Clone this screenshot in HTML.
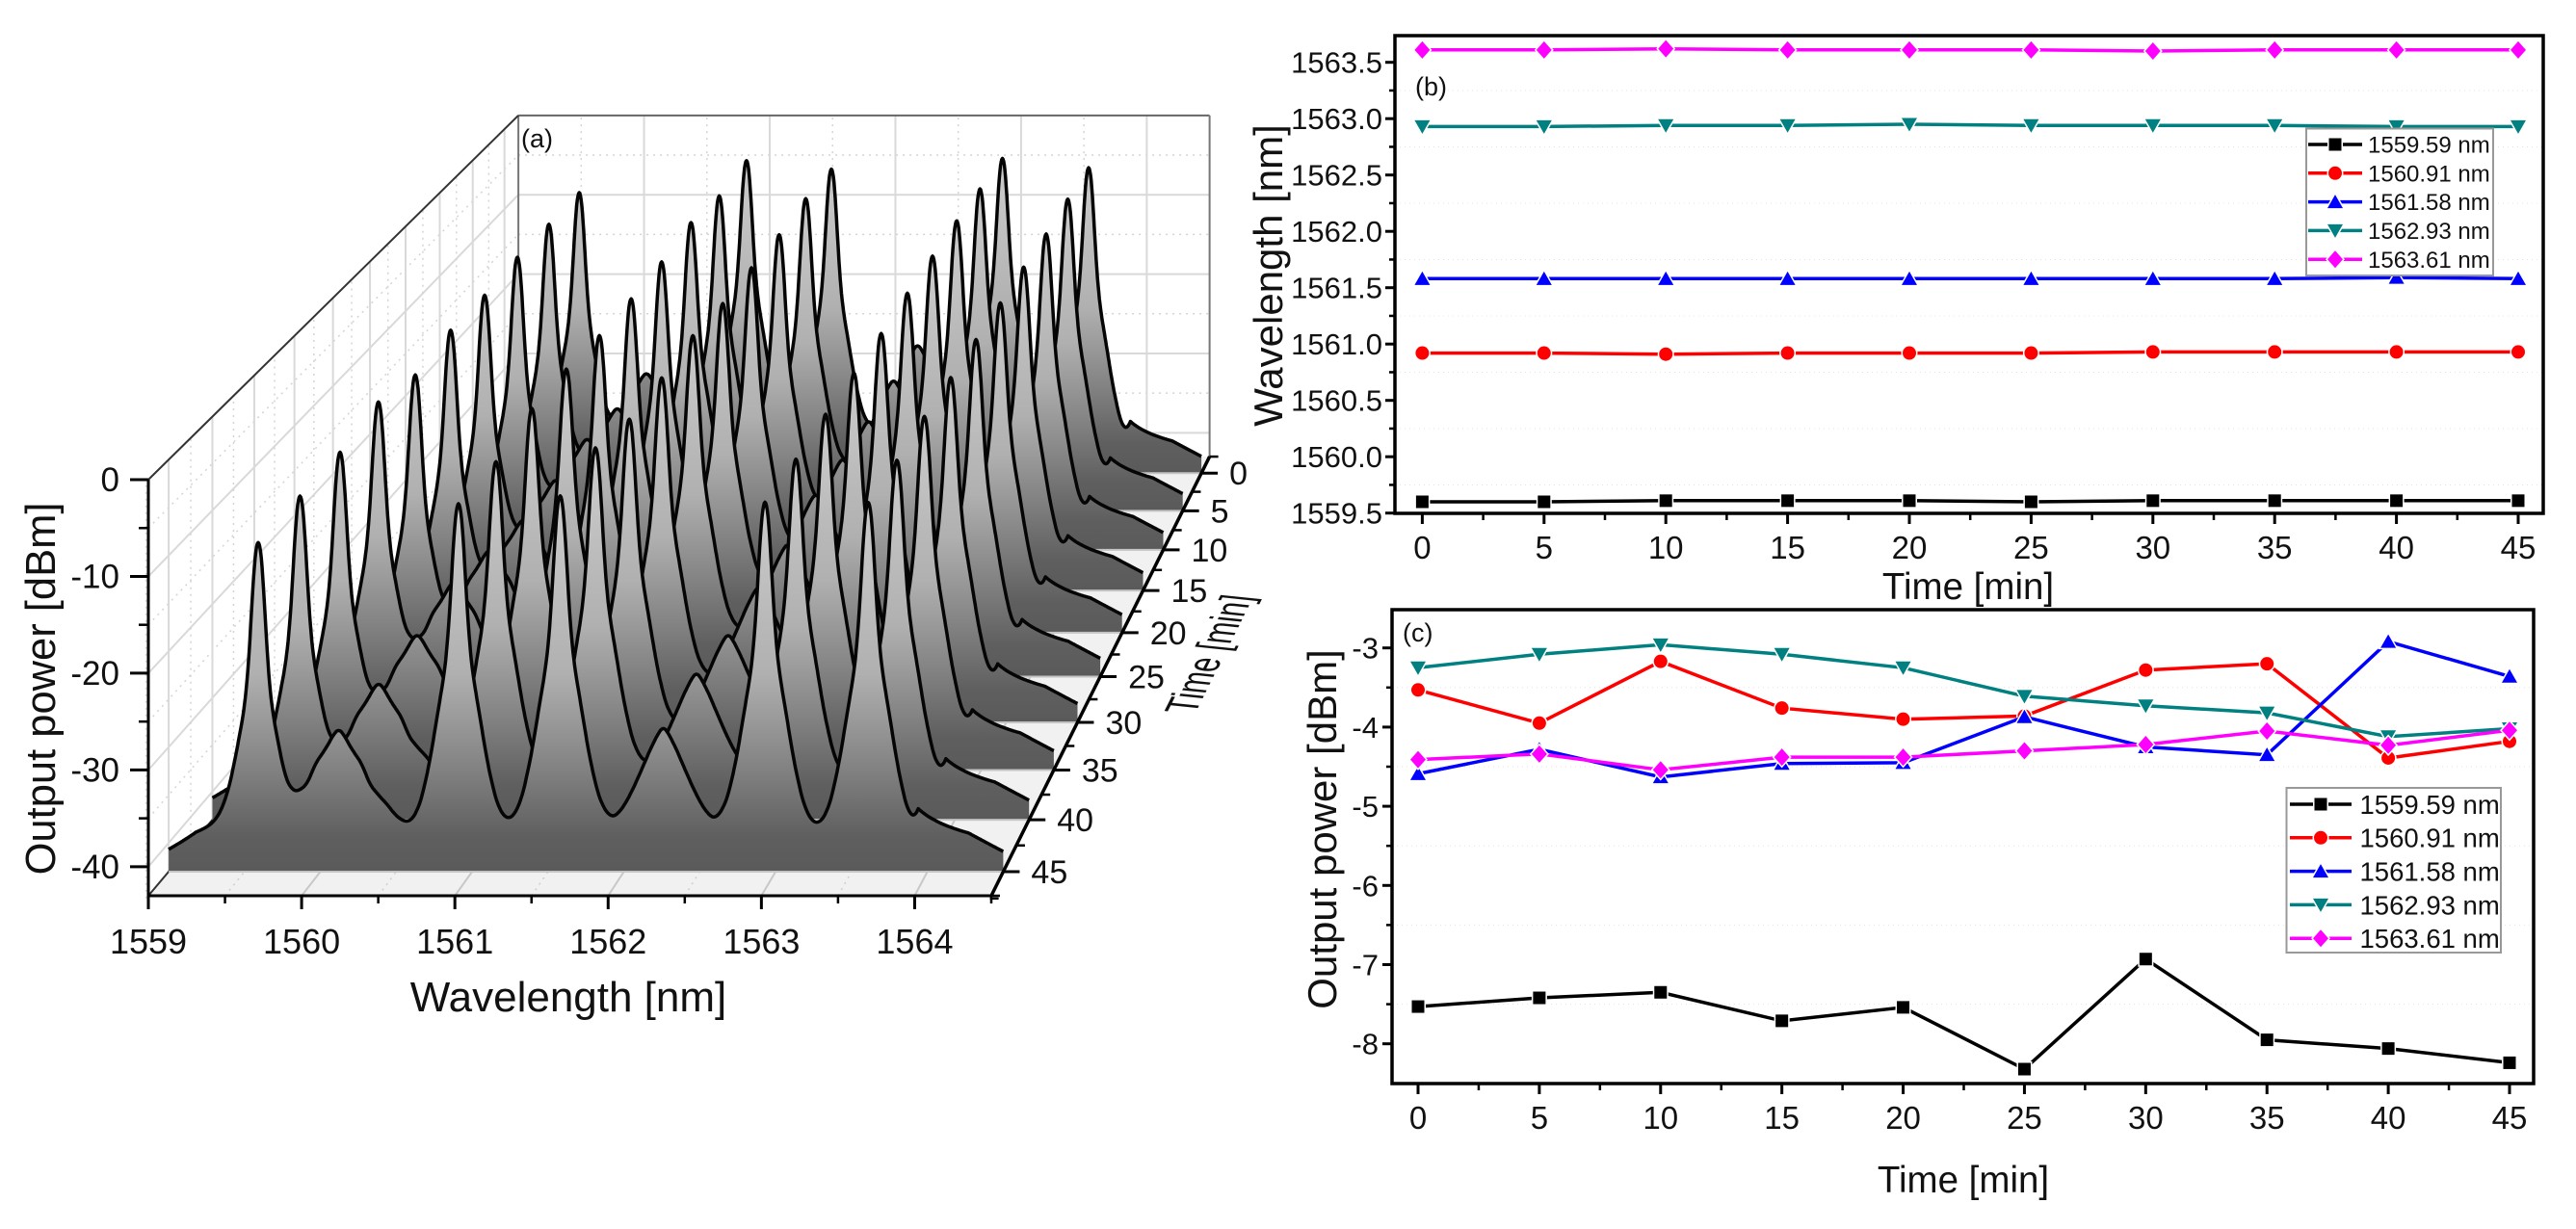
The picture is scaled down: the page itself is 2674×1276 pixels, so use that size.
<!DOCTYPE html>
<html lang="en">
<head>
<meta charset="utf-8">
<title>Laser spectra stability chart</title>
<style>
html,body{margin:0;padding:0;background:#fff;}
svg{display:block;font-family:"Liberation Sans",Arial,sans-serif;}
</style>
</head>
<body>
<svg id="figure" xmlns="http://www.w3.org/2000/svg" width="2674" height="1276" viewBox="0 0 2674 1276">
  <rect x="0" y="0" width="2674" height="1276" fill="#fff"/>
  <defs id="gradients"></defs>
  <g id="panel-a"></g>
  <g id="panel-b"></g>
  <g id="panel-c"></g>
  <text x="541" y="153" font-size="27" fill="#111">(a)</text>
  <text transform="translate(57,715) rotate(-90)" text-anchor="middle" font-size="43.5" fill="#111">Output power [dBm]</text>
  <text x="590" y="1050" text-anchor="middle" font-size="44" fill="#111">Wavelength [nm]</text>
  <text transform="matrix(.39,-.78,1.35,.14,1240,742)" font-size="34" fill="#111">Time [min]</text>
  <text x="1469" y="99" font-size="27" fill="#111">(b)</text>
  <text transform="translate(1331,286) rotate(-90)" text-anchor="middle" font-size="42" fill="#111">Wavelength [nm]</text>
  <text x="2043" y="622" text-anchor="middle" font-size="38.5" fill="#111">Time [min]</text>
  <text x="1456" y="666" font-size="27" fill="#111">(c)</text>
  <text transform="translate(1387,861) rotate(-90)" text-anchor="middle" font-size="42" fill="#111">Output power [dBm]</text>
  <text x="2038" y="1238" text-anchor="middle" font-size="38.5" fill="#111">Time [min]</text>
</svg>
<script>
// ---- data ----
const times = [0, 5, 10, 15, 20, 25, 30, 35, 40, 45];
const seriesLabels = ['1559.59 nm', '1560.91 nm', '1561.58 nm', '1562.93 nm', '1563.61 nm'];
const seriesColors = ['#000000', '#ff0000', '#0000ff', '#008080', '#ff00ff'];
const seriesMarkers = ['square', 'circle', 'up', 'down', 'diamond'];

const wavelength1559 = [1559.60, 1559.60, 1559.61, 1559.61, 1559.61, 1559.60, 1559.61, 1559.61, 1559.61, 1559.61];
const wavelength1560 = [1560.92, 1560.92, 1560.91, 1560.92, 1560.92, 1560.92, 1560.93, 1560.93, 1560.93, 1560.93];
const wavelength1561 = [1561.58, 1561.58, 1561.58, 1561.58, 1561.58, 1561.58, 1561.58, 1561.58, 1561.59, 1561.58];
const wavelength1562 = [1562.93, 1562.93, 1562.94, 1562.94, 1562.95, 1562.94, 1562.94, 1562.94, 1562.93, 1562.93];
const wavelength1563 = [1563.61, 1563.61, 1563.62, 1563.61, 1563.61, 1563.61, 1563.60, 1563.61, 1563.61, 1563.61];

const power1559 = [-7.53, -7.42, -7.35, -7.71, -7.54, -8.32, -6.93, -7.95, -8.06, -8.24];
const power1560 = [-3.53, -3.95, -3.17, -3.76, -3.90, -3.86, -3.28, -3.20, -4.39, -4.18];
const power1561 = [-4.59, -4.28, -4.63, -4.46, -4.45, -3.87, -4.25, -4.35, -2.92, -3.36];
const power1562 = [-3.25, -3.08, -2.96, -3.08, -3.25, -3.61, -3.73, -3.82, -4.12, -4.02];
const power1563 = [-4.41, -4.34, -4.54, -4.38, -4.38, -4.30, -4.22, -4.05, -4.23, -4.04];

// weak side-mode heights in the waterfall (dBm per time step)
const sideMode1560 = [-30.6, -30.5, -29.7, -30.0, -30.0, -28.7, -27.4, -28.3, -28.5, -28.2];
const sideMode1562 = [-27.0, -27.0, -27.5, -27.5, -27.0, -28.0, -28.0, -28.3, -27.4, -28.0];

const mainPeakCenters = [1559.59, 1560.91, 1561.58, 1562.93, 1563.61];
const sidePeakCenters = [1560.12, 1562.26];

// line shape tables: offset from centre [nm] -> drop [dB]
const mainShapeNm = [0, 0.02, 0.035, 0.05, 0.07, 0.093, 0.13, 0.19, 0.25, 0.3, 0.335, 0.4, 0.5, 0.6, 1, 6];
const mainShapeDb = [0, 1.6, 5, 10, 15, 18.5, 22, 28, 33, 36, 37.5, 39.5, 42, 44, 50, 80];
const side1560ShapeNm = [0, 0.03, 0.085, 0.15, 0.21, 0.32, 0.455, 0.6, 1, 6];
const side1560ShapeDb = [0, 0.5, 2.1, 3.7, 6.2, 8.7, 13, 17, 26, 80];
const side1562ShapeNm = [0, 0.03, 0.085, 0.15, 0.21, 0.33, 0.45, 0.6, 1, 6];
const side1562ShapeDb = [0, 0.6, 2.4, 5, 7.5, 12.5, 15, 18, 26, 80];
// broad amplifier background
const backgroundNm = [1559, 1559.18, 1559.31, 1559.43, 1559.6, 1559.8, 1563.8, 1563.94, 1564.08, 1564.27, 1564.5];
const backgroundDb = [-41.3, -39.8, -39.5, -39, -41, -50, -50, -38.5, -39, -39.6, -41.4];

const waterfallPowerTicks = [0, -10, -20, -30, -40];
const waterfallWavelengthTicks = [1559, 1560, 1561, 1562, 1563, 1564];
const timeTickLabels = ['0', '5', '10', '15', '20', '25', '30', '35', '40', '45'];
const wavelengthTicks = ['1559.5', '1560.0', '1560.5', '1561.0', '1561.5', '1562.0', '1562.5', '1563.0', '1563.5'];
const powerTicks = ['-8', '-7', '-6', '-5', '-4', '-3'];

// ---- helpers ----
const NS = 'http://www.w3.org/2000/svg';
function el(parent, tag, attrs) {
  const n = document.createElementNS(NS, tag);
  for (const k in attrs) n.setAttribute(k, attrs[k]);
  parent.appendChild(n);
  return n;
}
function interp(xs, ys, x) {
  if (x <= xs[0]) return ys[0];
  for (let i = 1; i < xs.length; i++) {
    if (x <= xs[i]) return ys[i - 1] + (ys[i] - ys[i - 1]) * (x - xs[i - 1]) / (xs[i] - xs[i - 1]);
  }
  return ys[ys.length - 1];
}
function smoothInterp(xs, ys, x) {
  const w = 0.008;
  return (interp(xs, ys, Math.abs(x - 2 * w)) + interp(xs, ys, Math.abs(x - w)) + interp(xs, ys, x) + interp(xs, ys, x + w) + interp(xs, ys, x + 2 * w)) / 5;
}

// ---- panel (a): perspective axes ----
const A = document.getElementById('panel-a');
const gradients = document.getElementById('gradients');
function project(lambda, t, dB) {
  const z = (47.25 - t) / 49.5;
  const p = 1 / (1 + 0.2195 * z);
  const X = 154 + 875 * (lambda - 1559) / 5.5;
  const Y = 930 - 432 * (dB + 43) / 43;
  return [2288 + (X - 2288) * p, -1603 + (Y + 1603) * p];
}
const T_FRONT = 47.25, T_BACK = -2.25, L_MIN = 1559, L_MAX = 1564.5, DB_MIN = -43;
function segA(p, q, stroke, width, dash, name) {
  const l = el(A, 'line', {x1: p[0], y1: p[1], x2: q[0], y2: q[1], stroke: stroke, 'stroke-width': width});
  if (dash) l.setAttribute('stroke-dasharray', dash);
  
  
  return l;
}
const floorCorners = [project(L_MIN, T_FRONT, DB_MIN), project(L_MAX, T_FRONT, DB_MIN), project(L_MAX, T_BACK, DB_MIN), project(L_MIN, T_BACK, DB_MIN)];
const floorPoly = el(A, 'polygon', {points: floorCorners.map(c => c.join(',')).join(' '), fill: '#f1f1f1'});



// back wall + left wall grid
for (let db = -40; db <= -5; db += 5) {
  const major = db % 10 === 0;
  const c = major ? '#d9d9d9' : '#d4d4d4';
  const w = major ? 2 : 1.5;
  const d = major ? '' : '2 5';
  segA(project(L_MIN, T_BACK, db), project(L_MAX, T_BACK, db), c, w, d, 'back-wall-gridline');
  segA(project(L_MIN, T_FRONT, db), project(L_MIN, T_BACK, db), c, w, d, 'left-wall-gridline');
}
for (let l = 1559.5; l < 1564.5; l += 0.5) {
  const major = Number.isInteger(l);
  const c = major ? '#d9d9d9' : '#d4d4d4';
  const w = major ? 2 : 1.5;
  const d = major ? '' : '2 5';
  segA(project(l, T_BACK, DB_MIN), project(l, T_BACK, 0), c, w, d, 'back-wall-gridline');
  segA(project(l, T_FRONT, DB_MIN), project(l, T_BACK, DB_MIN), major ? '#c8c8c8' : '#cfcfcf', w, d, 'floor-gridline');
}
times.forEach(t => {
  segA(project(L_MIN, t, DB_MIN), project(L_MIN, t, 0), '#d9d9d9', 2, '', 'left-wall-gridline');
  segA(project(L_MIN, t + 2.5, DB_MIN), project(L_MIN, t + 2.5, 0), '#d4d4d4', 1.5, '2 5', 'left-wall-gridline');
});
segA(project(L_MIN, T_BACK, DB_MIN), project(L_MIN, T_BACK, 0), '#777', 2, '', 'back-wall-left-edge');
segA(project(L_MIN, T_BACK, 0), project(L_MAX, T_BACK, 0), '#666', 2, '', 'back-wall-top-edge');
segA(project(L_MAX, T_BACK, 0), project(L_MAX, T_BACK, DB_MIN), '#777', 2, '', 'back-wall-right-edge');
segA(project(L_MIN, T_FRONT, 0), project(L_MIN, T_BACK, 0), '#333', 2, '', 'left-wall-top-edge');
segA(project(L_MIN, T_FRONT, DB_MIN), project(L_MIN, T_BACK, DB_MIN), '#333', 2, '', 'left-wall-bottom-edge');

// spectra, back to front
const mainPowers = [power1559, power1560, power1561, power1562, power1563];
function spectrumAt(i, lambda) {
  let sum = Math.pow(10, interp(backgroundNm, backgroundDb, lambda) / 10);
  mainPeakCenters.forEach((c, k) => {
    const drop = smoothInterp(mainShapeNm, mainShapeDb, Math.abs(lambda - c));
    sum += Math.pow(10, (mainPowers[k][i] - drop + 0.35) / 10);
  });
  const dropA = smoothInterp(side1560ShapeNm, side1560ShapeDb, Math.abs(lambda - sidePeakCenters[0]));
  sum += Math.pow(10, (sideMode1560[i] - dropA) / 10);
  const dropB = smoothInterp(side1562ShapeNm, side1562ShapeDb, Math.abs(lambda - sidePeakCenters[1]));
  sum += Math.pow(10, (sideMode1562[i] - dropB) / 10);
  return Math.max(DB_MIN, 10 * Math.log10(sum));
}
const samples = [];
for (let n = 0; n <= 1100; n++) samples.push(1559 + n * 0.005);
mainPeakCenters.concat(sidePeakCenters).forEach(c => samples.push(c));
samples.sort((a, b) => a - b);

times.forEach((t, i) => {
  const pts = samples.map(l => project(l, t, spectrumAt(i, l)));
  const d = 'M' + pts.map(p => p[0].toFixed(1) + ' ' + p[1].toFixed(1)).join('L');
  const bl = project(L_MIN, t, DB_MIN), br = project(L_MAX, t, DB_MIN), top = project(L_MIN, t, 0);
  const grad = el(gradients, 'linearGradient', {id: 'trace-fill-' + t, gradientUnits: 'userSpaceOnUse', x1: 0, x2: 0, y1: bl[1], y2: top[1]});
  [[0, '#5a5a5a'], [0.085, '#5f5f5f'], [0.24, '#808080'], [0.48, '#b0b0b0'], [0.8, '#c6c6c6'], [1, '#cccccc']].forEach(s => {
    el(grad, 'stop', {offset: s[0], 'stop-color': s[1]});
  });
  const fill = el(A, 'path', {d: d + 'L' + br[0].toFixed(1) + ' ' + br[1].toFixed(1) + 'L' + bl[0].toFixed(1) + ' ' + bl[1].toFixed(1) + 'Z', fill: 'url(#trace-fill-' + t + ')'});
  
  
  const base = el(A, 'line', {x1: bl[0], y1: bl[1], x2: br[0], y2: br[1], stroke: '#c4c4c4', 'stroke-width': 2});
  
  
  const line = el(A, 'path', {d: d, fill: 'none', stroke: '#050505', 'stroke-width': 3.5, 'stroke-linejoin': 'round'});
  
  
});

// panel (a) axes
segA(project(L_MIN, T_FRONT, DB_MIN), project(L_MIN, T_FRONT, 0), '#000', 3, '', 'power-axis');
segA(project(L_MIN, T_FRONT, DB_MIN), project(L_MAX, T_FRONT, DB_MIN), '#000', 3, '', 'wavelength-axis');
segA(project(L_MAX, T_FRONT, DB_MIN), project(L_MAX, T_BACK, DB_MIN), '#000', 3.5, '', 'time-axis');
function textA(x, y, s, anchor, size, name) {
  const n = el(A, 'text', {x: x, y: y, 'text-anchor': anchor, 'font-size': size, fill: '#111'});
  n.textContent = s;
  
  
}
waterfallPowerTicks.forEach(v => {
  const p = project(L_MIN, T_FRONT, v);
  segA([p[0] - 19, p[1]], p, '#000', 3, '', 'power-tick');
  textA(124, p[1] + 12, String(v), 'end', 35, 'power-tick-label');
  if (v > -40) {
    const m = project(L_MIN, T_FRONT, v - 5);
    segA([m[0] - 10, m[1]], m, '#000', 2.5, '', 'power-minor-tick');
  }
});
waterfallWavelengthTicks.forEach(v => {
  const p = project(v, T_FRONT, DB_MIN);
  segA(p, [p[0], p[1] + 14], '#000', 3, '', 'wavelength-tick');
  textA(p[0], 990, String(v), 'middle', 36, 'wavelength-tick-label');
  const m = project(v + 0.5, T_FRONT, DB_MIN);
  segA(m, [m[0], m[1] + 8], '#000', 2.5, '', 'wavelength-minor-tick');
});
times.forEach((t, i) => {
  const p = project(L_MAX, t, DB_MIN);
  segA(p, [p[0] + 17, p[1]], '#000', 3, '', 'time-tick');
  textA(p[0] + 29, p[1] + 12, timeTickLabels[i], 'start', 34, 'time-tick-label');
  const m = project(L_MAX, t + 2.5, DB_MIN);
  segA(m, [m[0] + 9, m[1]], '#000', 2.5, '', 'time-minor-tick');
});
const endTick = project(L_MAX, T_BACK, DB_MIN);
segA(endTick, [endTick[0] + 9, endTick[1]], '#000', 2.5, '', 'time-minor-tick');
const frontTick = project(L_MAX, T_FRONT, DB_MIN);
segA(frontTick, [frontTick[0] + 9, frontTick[1]], '#000', 2.5, '', 'time-minor-tick');

// ---- panels (b) and (c): 2D line charts ----
function marker(g, kind, x, y, color) {
  let m;
  if (kind === 'square') m = el(g, 'rect', {x: x - 6.5, y: y - 6.5, width: 13, height: 13, fill: color});
  else if (kind === 'circle') m = el(g, 'circle', {cx: x, cy: y, r: 7, fill: color});
  else if (kind === 'up') m = el(g, 'polygon', {points: [x - 8, y + 6.5, x + 8, y + 6.5, x, y - 7.5].join(' '), fill: color});
  else if (kind === 'down') m = el(g, 'polygon', {points: [x - 8, y - 6.5, x + 8, y - 6.5, x, y + 7.5].join(' '), fill: color});
  else m = el(g, 'polygon', {points: [x - 8, y, x, y - 9, x + 8, y, x, y + 9].join(' '), fill: color});
  m.setAttribute('stroke', '#ffffff');
  m.setAttribute('stroke-width', 3);
  m.setAttribute('paint-order', 'stroke');
  
  
}
function drawPanel(g, cfg) {
  const xOf = v => cfg.x0 + (cfg.x45 - cfg.x0) * v / 45;
  const yOf = v => cfg.yRef + (v - cfg.refVal) * cfg.pxPerUnit;

  // faint minor grid
  cfg.gridVals.forEach(v => {
    const gl = el(g, 'line', {x1: cfg.left, x2: cfg.right, y1: yOf(v), y2: yOf(v), stroke: '#e4e4e4', 'stroke-width': 1, 'stroke-dasharray': '1 4'});
    
    
  });

  // series
  cfg.series.forEach((vals, s) => {
    const line = el(g, 'polyline', {points: vals.map((v, i) => xOf(times[i]).toFixed(1) + ',' + yOf(v).toFixed(1)).join(' '), fill: 'none', stroke: seriesColors[s], 'stroke-width': 3.5});
    
    
    vals.forEach((v, i) => marker(g, seriesMarkers[s], xOf(times[i]), yOf(v), seriesColors[s]));
  });

  // frame
  const frame = el(g, 'rect', {x: cfg.left, y: cfg.top, width: cfg.right - cfg.left, height: cfg.bottom - cfg.top, fill: 'none', stroke: '#000', 'stroke-width': 3.5});
  
  

  // x ticks
  times.forEach((t, i) => {
    const tick = el(g, 'line', {x1: xOf(t), x2: xOf(t), y1: cfg.bottom, y2: cfg.bottom + 11, stroke: '#000', 'stroke-width': 3});
    
    
    if (t < 45) {
      const minor = el(g, 'line', {x1: xOf(t + 2.5), x2: xOf(t + 2.5), y1: cfg.bottom, y2: cfg.bottom + 7, stroke: '#000', 'stroke-width': 2.5});
      
      
    }
    const label = el(g, 'text', {x: xOf(t), y: cfg.xLabelY, 'text-anchor': 'middle', 'font-size': 33, fill: '#111'});
    label.textContent = timeTickLabels[i];
    
    
  });

  // y ticks
  cfg.yTicks.forEach(s => {
    const y = yOf(parseFloat(s));
    const tick = el(g, 'line', {x1: cfg.left - 10, x2: cfg.left, y1: y, y2: y, stroke: '#000', 'stroke-width': 3});
    
    
    const label = el(g, 'text', {x: cfg.yLabelX, y: y + 11, 'text-anchor': 'end', 'font-size': 31, fill: '#111'});
    label.textContent = s;
    
    
  });
  cfg.gridVals.forEach(v => {
    const tick = el(g, 'line', {x1: cfg.left - 6, x2: cfg.left, y1: yOf(v), y2: yOf(v), stroke: '#000', 'stroke-width': 2.5});
    
    
  });

  // legend
  const L = cfg.legend;
  const lg = el(g, 'g', {});
  
  
  const box = el(lg, 'rect', {x: L.x, y: L.y, width: L.w, height: L.h, fill: '#fff', stroke: '#999', 'stroke-width': 2});
  
  
  seriesLabels.forEach((s, k) => {
    const y = L.y0 + k * L.dy;
    const sw = el(lg, 'line', {x1: L.lx1, x2: L.lx2, y1: y, y2: y, stroke: seriesColors[k], 'stroke-width': 3.5});
    
    
    marker(lg, seriesMarkers[k], (L.lx1 + L.lx2) / 2, y, seriesColors[k]);
    const tx = el(lg, 'text', {x: L.tx, y: y + L.fs * 0.36, 'font-size': L.fs, fill: '#111'});
    tx.textContent = s;
    
    
  });
}
const minorWavelengths = [1559.75, 1560.25, 1560.75, 1561.25, 1561.75, 1562.25, 1562.75, 1563.25];
const minorPowers = [-7.5, -6.5, -5.5, -4.5, -3.5];
drawPanel(document.getElementById('panel-b'), {
  left: 1448, right: 2640, top: 37, bottom: 533,
  x0: 1476.4, x45: 2614,
  yRef: 64.7, refVal: 1563.5, pxPerUnit: -117,
  series: [wavelength1559, wavelength1560, wavelength1561, wavelength1562, wavelength1563],
  yTicks: wavelengthTicks, gridVals: minorWavelengths,
  xLabelY: 580, yLabelX: 1435,
  legend: {x: 2394, y: 133.5, w: 194, h: 152.5, y0: 150, dy: 29.8, lx1: 2396, lx2: 2452, tx: 2458, fs: 24}
});
drawPanel(document.getElementById('panel-c'), {
  left: 1445, right: 2630, top: 633, bottom: 1125,
  x0: 1472, x45: 2605,
  yRef: 672.7, refVal: -3, pxPerUnit: -82.2,
  series: [power1559, power1560, power1561, power1562, power1563],
  yTicks: powerTicks, gridVals: minorPowers,
  xLabelY: 1172, yLabelX: 1431,
  legend: {x: 2373.5, y: 818, w: 222.5, h: 171, y0: 835, dy: 34.8, lx1: 2377, lx2: 2441, tx: 2449.5, fs: 27.5}
});
</script>
</body>
</html>
